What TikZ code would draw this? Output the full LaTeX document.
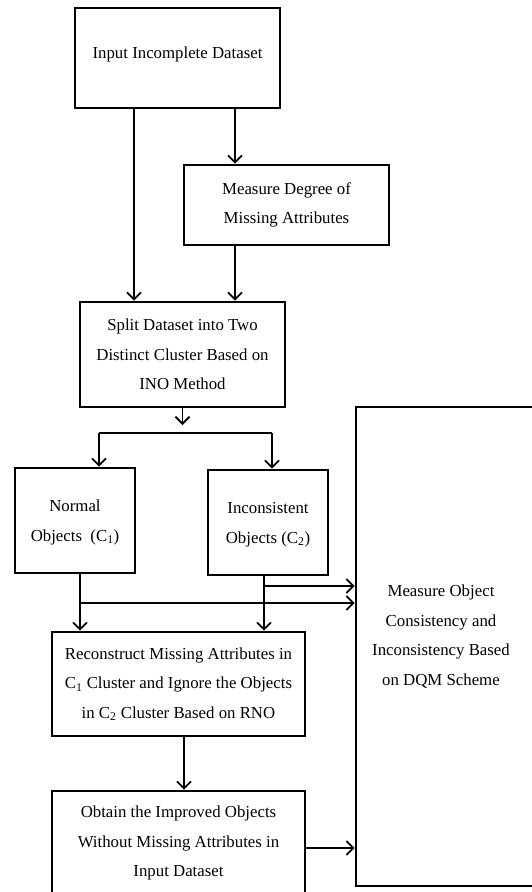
\documentclass[tikz,border=0pt]{standalone}
\usepackage{fontspec}
\setmainfont{Liberation Serif}
\usetikzlibrary{arrows.meta}
\begin{document}
\begin{tikzpicture}[x=1pt,y=-1pt,
  box/.style={draw,line width=2.6pt,align=center,inner sep=0pt,font=\fontsize{16.8}{29.5}\selectfont},
  arr/.style={line width=1.8pt,-{Straight Barb[length=7pt,width=14pt,line width=1.8pt]}},
  ln/.style={line width=1.8pt}]
\useasboundingbox (0,0) rectangle (532,892);
\clip (0,0) rectangle (532,892);
\node[box,minimum width=205pt,minimum height=100pt] (inp) at (177.5,58) {\raisebox{10pt}{Input Incomplete Dataset}};
\node[box,minimum width=205pt,minimum height=80pt] (deg) at (286.5,205) {Measure Degree of\\Missing Attributes};
\node[box,minimum width=205pt,minimum height=105pt] (split) at (182.5,354.5) {Split Dataset into Two\\Distinct Cluster Based on\\INO Method};
\node[box,minimum width=120pt,minimum height=105pt] (norm) at (75,520.5) {\raisebox{15pt}{\begin{tabular}{@{}c@{}}Normal\\Objects~~(C\textsubscript{1})\end{tabular}}};
\node[box,minimum width=120pt,minimum height=105pt] (inc) at (268,522.5) {\raisebox{10pt}{\begin{tabular}{@{}c@{}}Inconsistent\\Objects (C\textsubscript{2})\end{tabular}}};
\node[box,minimum width=180pt,minimum height=479pt] (mo) at (446,646.5) {};
\node[font=\fontsize{16.8}{29.5}\selectfont,align=center] (motext) at (441,636.5) {Measure Object\\Consistency and\\Inconsistency Based\\on DQM Scheme};
\node[box,minimum width=253pt,minimum height=104pt] (rec) at (178.5,684) {Reconstruct Missing Attributes in\\C\textsubscript{1} Cluster and Ignore the Objects\\in C\textsubscript{2} Cluster Based on RNO};
\node[box,minimum width=253pt,minimum height=104pt] (obt) at (178.5,843) {Obtain the Improved Objects\\Without Missing Attributes in\\Input Dataset};
% x positions
\coordinate (xa) at (134,0);
\coordinate (xb) at (235,0);
\coordinate (xn) at (99,0);
\coordinate (xi) at (272,0);
\coordinate (xn2) at (80,0);
\coordinate (xi2) at (264,0);
\coordinate (xr) at (184,0);
\draw[arr] (inp.south -| xa) -- (split.north -| xa);
\draw[arr] (inp.south -| xb) -- (deg.north -| xb);
\draw[arr] (deg.south -| xb) -- (split.north -| xb);
\coordinate (sj) at (182.5,425);
\coordinate (hy) at (0,433);
\draw[arr] (split.south) -- (sj);
\draw[ln] (hy -| xn) -- (hy -| xi);
\draw[arr] (hy -| xn) -- (norm.north -| xn);
\draw[arr] (hy -| xi) -- (inc.north -| xi);
\draw[arr] (norm.south -| xn2) -- (rec.north -| xn2);
\draw[arr] (inc.south -| xi2) -- (rec.north -| xi2);
\coordinate (h1) at (0,586);
\coordinate (h2) at (0,603);
\draw[arr] (h1 -| xi2) -- (h1 -| mo.west);
\draw[arr] (h2 -| xn2) -- (h2 -| mo.west);
\draw[arr] (rec.south -| xr) -- (obt.north -| xr);
\coordinate (h3) at (0,848);
\draw[arr] (h3 -| obt.east) -- (h3 -| mo.west);
\end{tikzpicture}
\end{document}
